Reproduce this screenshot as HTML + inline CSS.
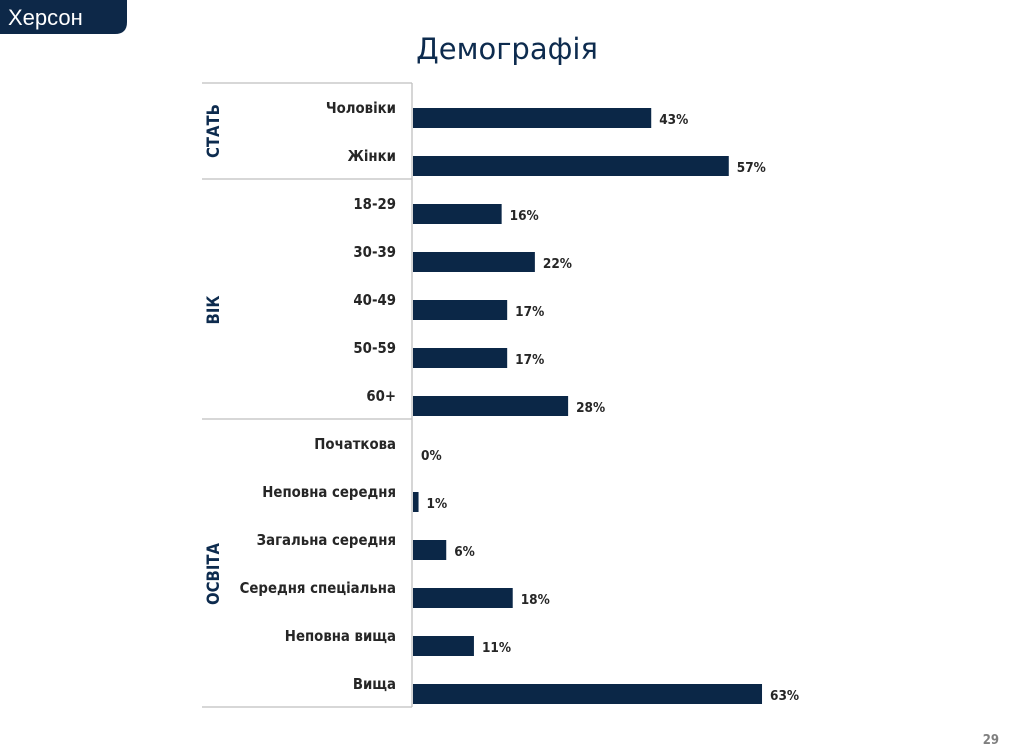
<!DOCTYPE html>
<html><head><meta charset="utf-8"><style>
html,body{margin:0;padding:0;background:#fff;width:1014px;height:754px;overflow:hidden}
svg{display:block;font-family:"DejaVu Sans Condensed","DejaVu Sans","Liberation Sans",sans-serif}
</style></head><body>
<svg id="chart" width="1014" height="754">
<g>
<path d="M0,0 H127 V22 Q127,34 115,34 H0 Z" fill="#0d2848"/>
<text x="8" y="25" font-size="22" fill="#fff" font-family="Liberation Sans, sans-serif">Херсон</text>
</g>
<text x="507" y="59" font-size="29" fill="#0d2b4e" text-anchor="middle" font-family="DejaVu Sans, sans-serif">Демографія</text>
<text x="999" y="744" font-size="13" fill="#7f7f7f" text-anchor="end" font-weight="bold">29</text>
<g id="frame" stroke="#bfbfbf" stroke-width="1.3">
<line x1="202" y1="83" x2="412" y2="83"/>
<line x1="412" y1="83" x2="412" y2="707"/>
<line x1="202" y1="179" x2="412" y2="179"/>
<line x1="202" y1="419" x2="412" y2="419"/>
<line x1="202" y1="707" x2="412" y2="707"/>
</g>
<g id="bars"></g>
</svg>
<script>
const categories=["Чоловіки","Жінки","18-29","30-39","40-49","50-59","60+","Початкова","Неповна середня","Загальна середня","Середня спеціальна","Неповна вища","Вища"];
const values=[43,57,16,22,17,17,28,0,1,6,18,11,63];
const groups=["СТАТЬ","ВІК","ОСВІТА"];
const groupSizes=[2,5,6];
const g=document.getElementById('bars');
const NS='http://www.w3.org/2000/svg';
const x0=413, pxPer=5.54, y0=118, step=48, bh=20;
const xs=v=>v*pxPer;
const yc=i=>y0+i*step;
function mk(tag,attrs,txt){const e=document.createElementNS(NS,tag);for(const k in attrs)e.setAttribute(k,attrs[k]);if(txt!==undefined)e.textContent=txt;return e;}
categories.forEach((c,i)=>{
  const r=mk('rect',{x:x0,y:yc(i)-bh/2,width:xs(values[i]),height:bh,fill:'#0b2747'});
  
  
  g.appendChild(r);
  const l=mk('text',{x:396,y:yc(i)-5,'font-size':14.8,'font-weight':'bold',fill:'#262626','text-anchor':'end'},c);
  
  
  g.appendChild(l);
  const v=mk('text',{x:x0+xs(values[i])+8,y:yc(i)+6,'font-size':13.5,'font-weight':'bold',fill:'#262626'},values[i]+'%');
  
  
  g.appendChild(v);
});
let start=0;
groups.forEach((gname,k)=>{
  const n=groupSizes[k];
  const mid=(yc(start)+yc(start+n-1))/2+(k===0?-11:0);
  const t=mk('text',{x:0,y:0,'font-size':16.5,'font-weight':'bold',fill:'#0d2b4e','text-anchor':'middle','font-family':'DejaVu Sans Condensed, sans-serif',transform:'translate(219,'+mid+') rotate(-90)'},gname);
  
  
  g.appendChild(t);
  start+=n;
});
</script>
</body></html>
